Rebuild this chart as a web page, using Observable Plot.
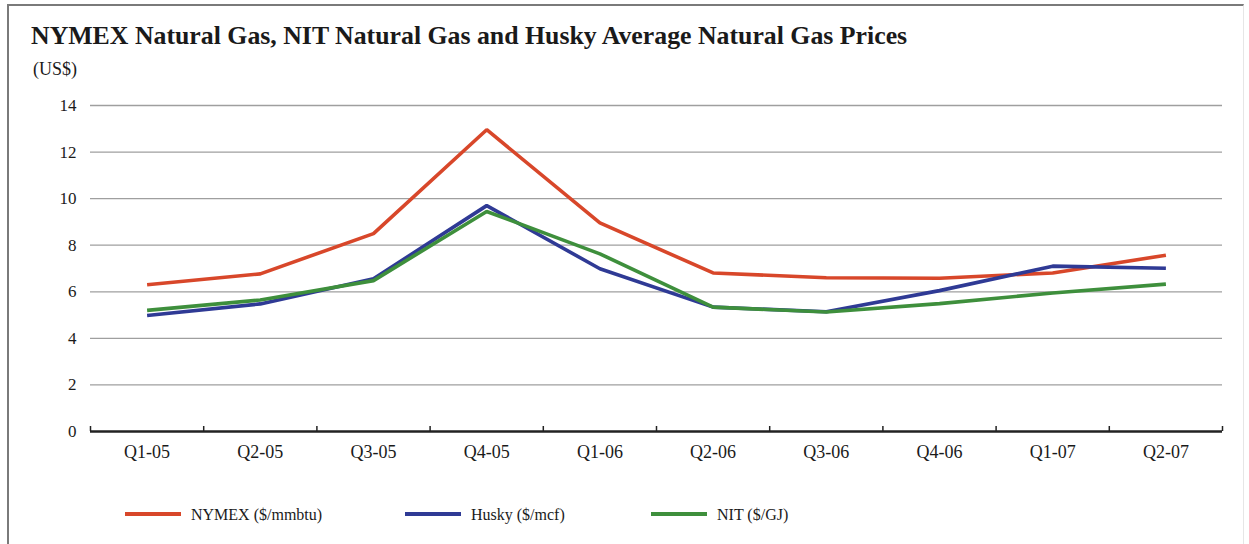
<!DOCTYPE html>
<html><head><meta charset="utf-8">
<script src="https://cdn.jsdelivr.net/npm/d3@7"></script>
<script src="https://cdn.jsdelivr.net/npm/@observablehq/plot@0.6"></script>
<style>
body{margin:0;background:#fff;}
#wrap{position:relative;width:1249px;height:544px;overflow:hidden;font-family:"Liberation Serif","Times New Roman",serif;color:#1a1a1a;background:#fff;}
#frame{position:absolute;left:7px;top:4px;width:1237px;height:600px;border-left:2px solid #7a7a7a;border-top:2px solid #7a7a7a;border-right:1px solid #e6e6e6;box-sizing:border-box;}
#plot{position:absolute;left:0;top:0;}
#title{position:absolute;left:31px;top:23.4px;font-weight:bold;font-size:25.8px;line-height:1;white-space:nowrap;}
#unit{position:absolute;left:33px;top:59.5px;font-size:18px;line-height:1;white-space:nowrap;}
.leg{position:absolute;top:507px;font-size:16px;line-height:1;white-space:nowrap;display:flex;align-items:center;}
.leg .sw{display:inline-block;width:56px;height:3.5px;margin-right:10px;position:relative;top:-1px;}
</style>
</head><body>
<div id="wrap">
  <div id="frame"></div>
  <div id="plot"></div>
  <div id="title"></div>
  <div id="unit"></div>
</div>
<script>
// ---- data ----
const quarters = ["Q1-05","Q2-05","Q3-05","Q4-05","Q1-06","Q2-06","Q3-06","Q4-06","Q1-07","Q2-07"];
const nymex = [6.30, 6.77, 8.50, 12.96, 8.96, 6.81, 6.60, 6.58, 6.81, 7.57];
const husky = [4.98, 5.48, 6.56, 9.70, 6.99, 5.34, 5.14, 6.05, 7.10, 7.01];
const nit   = [5.20, 5.65, 6.48, 9.45, 7.63, 5.34, 5.13, 5.49, 5.95, 6.33];
const seriesNames = ["NYMEX ($/mmbtu)", "Husky ($/mcf)", "NIT ($/GJ)"];
const yTicks = [0, 2, 4, 6, 8, 10, 12, 14];
const titleText = "NYMEX Natural Gas, NIT Natural Gas and Husky Average Natural Gas Prices";
const unitText = "(US$)";

// ---- styles ----
const colors = ["#d8472a", "#2f3a95", "#3e8f3c"];
const legendLeft = [125, 405, 651];

const seriesValues = [nymex, husky, nit];
const rows = [];
seriesValues.forEach((vals, s) => vals.forEach((v, i) => rows.push({series: seriesNames[s], i, value: v})));
const idx = quarters.map((q, i) => i);
const boundaries = d3.range(quarters.length + 1).map(i => i - 0.5);

const chart = Plot.plot({
  width: 1249,
  height: 544,
  marginLeft: 90,
  marginRight: 27,
  marginTop: 105,
  marginBottom: 113,
  style: {fontFamily: '"Liberation Serif","Times New Roman",serif', fontSize: "17px", color: "#1a1a1a", background: "transparent", overflow: "visible"},
  x: {domain: [-0.5, quarters.length - 0.5]},
  y: {domain: [0, 14]},
  color: {domain: seriesNames, range: colors},
  marks: [
    Plot.gridY(yTicks.filter(d => d > 0), {stroke: "#9f9f9f", strokeOpacity: 1, strokeWidth: 1.3}),
    Plot.axisY({ticks: yTicks, tickSize: 0, tickPadding: 14, label: null, fontSize: 17}),
    Plot.axisX({ticks: idx, tickSize: 0, tickPadding: 14, tickFormat: i => quarters[i], label: null, fontSize: 18}),
    Plot.axisX({ticks: boundaries, tickSize: -5, tickFormat: () => "", label: null, stroke: "#222", strokeWidth: 1.5}),
    Plot.ruleY([0], {stroke: "#222", strokeWidth: 2.5}),
    Plot.line(rows, {x: "i", y: "value", z: "series", stroke: "series", strokeWidth: 3.6, strokeLinejoin: "miter", strokeLinecap: "butt"})
  ]
});
document.getElementById("plot").appendChild(chart);
document.getElementById("title").textContent = titleText;
document.getElementById("unit").textContent = unitText;

const wrap = document.getElementById("wrap");
seriesNames.forEach((name, s) => {
  const d = document.createElement("div");
  d.className = "leg";
  d.style.left = legendLeft[s] + "px";
  const sw = document.createElement("span");
  sw.className = "sw";
  sw.style.background = colors[s];
  d.appendChild(sw);
  d.appendChild(document.createTextNode(name));
  wrap.appendChild(d);
});
</script>
</body></html>
